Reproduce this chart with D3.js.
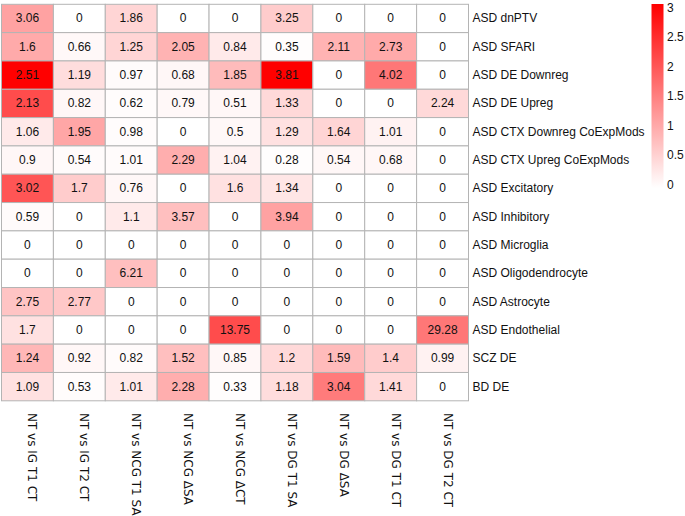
<!DOCTYPE html>
<html>
<head>
<meta charset="utf-8">
<script src="https://cdn.jsdelivr.net/npm/d3@7"></script>
<style>
  body { margin: 0; background: #fff; }
  svg { display: block; }
</style>
</head>
<body>
<div id="chart"></div>
<script>
// Comparisons (columns) and gene sets (rows)
const comparisons = ['NT vs IG T1 CT', 'NT vs IG T2 CT', 'NT vs NCG T1 SA', 'NT vs NCG \u0394SA',
  'NT vs NCG \u0394CT', 'NT vs DG T1 SA', 'NT vs DG \u0394SA', 'NT vs DG T1 CT', 'NT vs DG T2 CT'];

const geneSets = ['ASD dnPTV', 'ASD SFARI', 'ASD DE Downreg', 'ASD DE Upreg',
  'ASD CTX Downreg CoExpMods', 'ASD CTX Upreg CoExpMods', 'ASD Excitatory', 'ASD Inhibitory',
  'ASD Microglia', 'ASD Oligodendrocyte', 'ASD Astrocyte', 'ASD Endothelial', 'SCZ DE', 'BD DE'];

// numbers printed in the cells
const cellLabels = [
  [3.06, 0, 1.86, 0, 0, 3.25, 0, 0, 0],
  [1.6, 0.66, 1.25, 2.05, 0.84, 0.35, 2.11, 2.73, 0],
  [2.51, 1.19, 0.97, 0.68, 1.85, 3.81, 0, 4.02, 0],
  [2.13, 0.82, 0.62, 0.79, 0.51, 1.33, 0, 0, 2.24],
  [1.06, 1.95, 0.98, 0, 0.5, 1.29, 1.64, 1.01, 0],
  [0.9, 0.54, 1.01, 2.29, 1.04, 0.28, 0.54, 0.68, 0],
  [3.02, 1.7, 0.76, 0, 1.6, 1.34, 0, 0, 0],
  [0.59, 0, 1.1, 3.57, 0, 3.94, 0, 0, 0],
  [0, 0, 0, 0, 0, 0, 0, 0, 0],
  [0, 0, 6.21, 0, 0, 0, 0, 0, 0],
  [2.75, 2.77, 0, 0, 0, 0, 0, 0, 0],
  [1.7, 0, 0, 0, 13.75, 0, 0, 0, 29.28],
  [1.24, 0.92, 0.82, 1.52, 0.85, 1.2, 1.59, 1.4, 0.99],
  [1.09, 0.53, 1.01, 2.28, 0.33, 1.18, 3.04, 1.41, 0]
];

const fillValues = [
  [1.1, 0, 0.5, 0, 0, 0.6, 0, 0, 0],
  [1.0, 0.08, 0.5, 0.9, 0.25, 0.02, 0.9, 1.0, 0],
  [3.0, 0.4, 0.05, 0.1, 0.8, 3.0, 0, 1.6, 0],
  [2.1, 0.1, 0.03, 0.08, 0.1, 0.45, 0, 0, 0.45],
  [0.25, 1.05, 0.03, 0, 0.08, 0.35, 0.5, 0.15, 0],
  [0.1, 0.05, 0.05, 0.95, 0.15, 0.02, 0.1, 0.1, 0],
  [2.0, 0.6, 0.1, 0, 0.35, 0.3, 0, 0, 0],
  [0.05, 0, 0.25, 0.75, 0, 1.1, 0, 0, 0],
  [0, 0, 0, 0, 0, 0, 0, 0, 0],
  [0, 0, 0.75, 0, 0, 0, 0, 0, 0],
  [0.7, 0.65, 0, 0, 0, 0, 0, 0, 0],
  [0.35, 0, 0, 0, 2.1, 0, 0, 0, 1.6],
  [0.85, 0.1, 0.05, 0.75, 0.1, 0.45, 0.8, 0.6, 0.15],
  [0.35, 0.03, 0.25, 0.95, 0.02, 0.4, 1.55, 0.45, 0]
];

const legendTicks = [0, 0.5, 1, 1.5, 2, 2.5, 3];

const W = 685, H = 516;
const gridLeft = 1.5, gridTop = 4.3;
const gridW = 467, gridH = 396.5;

const svg = d3.select('#chart').append('svg')
  .attr('width', W)
  .attr('height', H);

const x = d3.scaleBand().domain(comparisons).range([gridLeft, gridLeft + gridW]);
const y = d3.scaleBand().domain(geneSets).range([gridTop, gridTop + gridH]);
const color = d3.scaleLinear().domain([0, 3]).range(['#ffffff', '#ff0000']).clamp(true);

// flatten into cells
const cells = [];
geneSets.forEach((g, i) => {
  comparisons.forEach((c, j) => {
    cells.push({row: g, col: c, label: cellLabels[i][j], v: fillValues[i][j]});
  });
});

const cellG = svg.append('g');
cellG.selectAll('rect')
  .data(cells)
  .enter()
  .append('rect')
  .attr('x', d => x(d.col))
  .attr('y', d => y(d.row))
  .attr('width', x.bandwidth())
  .attr('height', y.bandwidth())
  .attr('fill', d => color(d.v))
  .attr('stroke', '#b4b4b4')
  .attr('stroke-width', 1);

cellG.selectAll('text')
  .data(cells)
  .enter()
  .append('text')
  .attr('x', d => x(d.col) + x.bandwidth() / 2)
  .attr('y', d => y(d.row) + y.bandwidth() / 2)
  .attr('text-anchor', 'middle')
  .attr('dominant-baseline', 'central')
  .style('font-family', '"Liberation Sans", Arial, sans-serif')
  .style('font-size', '12px')
  .attr('fill', '#111')
  .text(d => d.label);

// row labels on the right
svg.append('g').selectAll('text')
  .data(geneSets)
  .enter()
  .append('text')
  .attr('x', gridLeft + gridW + 4)
  .attr('y', d => y(d) + y.bandwidth() / 2)
  .attr('dominant-baseline', 'central')
  .style('font-family', '"Liberation Sans", Arial, sans-serif')
  .style('font-size', '12px')
  .attr('fill', '#111')
  .text(d => d);

// column labels, rotated
svg.append('g').selectAll('text')
  .data(comparisons)
  .enter()
  .append('text')
  .attr('transform', d => 'translate(' + (x(d) + x.bandwidth() / 2 + 5) + ',' + 413 + ') rotate(90)')
  .attr('dominant-baseline', 'central')
  .style('font-family', '"DejaVu Sans", sans-serif')
  .style('font-size', '12px')
  .attr('fill', '#111')
  .text(d => d);

// colour bar
const legendY = d3.scaleLinear().domain([0, 3]).range([185, 7.5]);
const defs = svg.append('defs');
const grad = defs.append('linearGradient')
  .attr('id', 'bar')
  .attr('x1', 0).attr('y1', 1).attr('x2', 0).attr('y2', 0);
grad.append('stop').attr('offset', '0%').attr('stop-color', color(0));
grad.append('stop').attr('offset', '100%').attr('stop-color', color(3));

svg.append('rect')
  .attr('x', 651.5)
  .attr('y', 4)
  .attr('width', 12)
  .attr('height', 184)
  .attr('fill', 'url(#bar)');

svg.append('g').selectAll('text')
  .data(legendTicks)
  .enter()
  .append('text')
  .attr('x', 667)
  .attr('y', d => legendY(d))
  .attr('dominant-baseline', 'central')
  .style('font-family', '"Liberation Sans", Arial, sans-serif')
  .style('font-size', '12px')
  .attr('fill', '#111')
  .text(d => d);
</script>
</body>
</html>
